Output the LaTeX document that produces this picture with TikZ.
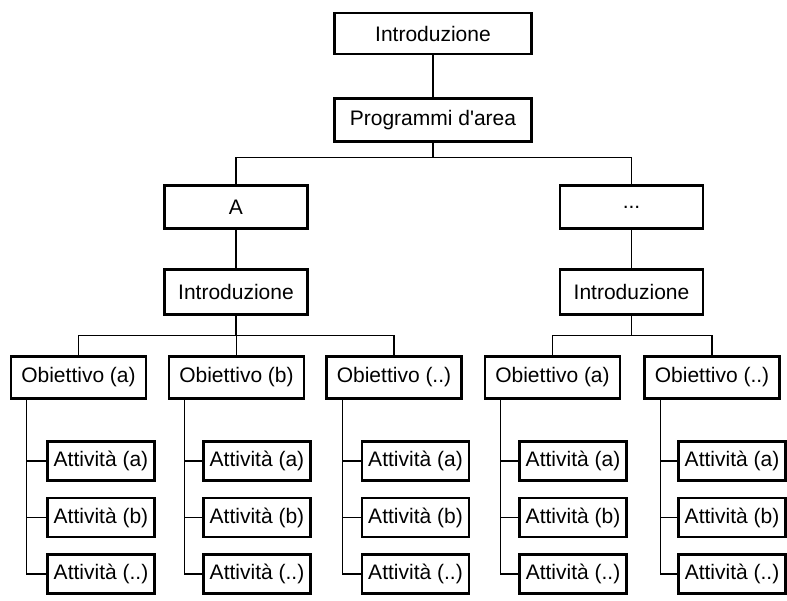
\documentclass[tikz,border=0pt]{standalone}
\usepackage{fontspec}
\setmainfont{Liberation Sans}[Ligatures=TeXOff]
\begin{document}
\begin{tikzpicture}[x=1pt,y=-1pt,
  box/.style={draw=black,line width=2.6pt,fill=white,inner sep=0pt,font=\fontsize{21}{24}\selectfont},
  topbox/.style={box,minimum width=197pt,minimum height=41pt},
  midbox/.style={box,minimum width=143pt,minimum height=43pt},
  objbox/.style={box,minimum width=135pt,minimum height=42pt},
  actbox/.style={box,minimum width=107pt,minimum height=39pt},
  conn/.style={draw=black,line width=1.2pt}]
\useasboundingbox (0,0) rectangle (787,601);
% top level
\node[topbox] (intro) at (433,33.5) {Introduzione};
\node[topbox,minimum height=43pt] (prog) at (433,120) {Programmi d'area};
\node[midbox] (A) at (236,207) {A};
\node[midbox] (D) at (631.5,207) {...};
\node[midbox,minimum height=45pt] (iL) at (236,292) {Introduzione};
\node[midbox,minimum height=45pt] (iR) at (631.5,292) {Introduzione};
% objectives
\node[objbox] (o1) at (78.5,377.5) {Obiettivo (a)};
\node[objbox] (o2) at (236.5,377.5) {Obiettivo (b)};
\node[objbox] (o3) at (394,377.5) {Obiettivo (..)};
\node[objbox] (o4) at (552.5,377.5) {Obiettivo (a)};
\node[objbox] (o5) at (712,377.5) {Obiettivo (..)};
% activities
\foreach \i/\x in {1/101,2/257,3/415.5,4/573,5/732}{
  \node[actbox] (a\i1) at (\x,461) {Attività (a)};
  \node[actbox] (a\i2) at (\x,517.5) {Attività (b)};
  \node[actbox] (a\i3) at (\x,574) {Attività (..)};
}
% connectors
\draw[conn] (intro.south) -- (prog.north);
\draw[conn] (prog.south) -- ++(0,15) -| (A.north);
\draw[conn] (prog.south) -- ++(0,15) -| (D.north);
\draw[conn] (A.south) -- (iL.north);
\draw[conn] (D.south) -- (iR.north);
\draw[conn] (iL.south) -- ++(0,20) -| (o1.north);
\draw[conn] (iL.south) -- ++(0,20) -| (o2.north);
\draw[conn] (iL.south) -- ++(0,20) -| (o3.north);
\draw[conn] (iR.south) -- ++(0,20) -| (o4.north);
\draw[conn] (iR.south) -- ++(0,20) -| (o5.north);
\foreach \i in {1,...,5}{
  \draw[conn] ([xshift=17pt]o\i.south west) |- (a\i3.west);
  \draw[conn] ([xshift=17pt]o\i.south west) |- (a\i2.west);
  \draw[conn] ([xshift=17pt]o\i.south west) |- (a\i1.west);
}
\end{tikzpicture}
\end{document}
